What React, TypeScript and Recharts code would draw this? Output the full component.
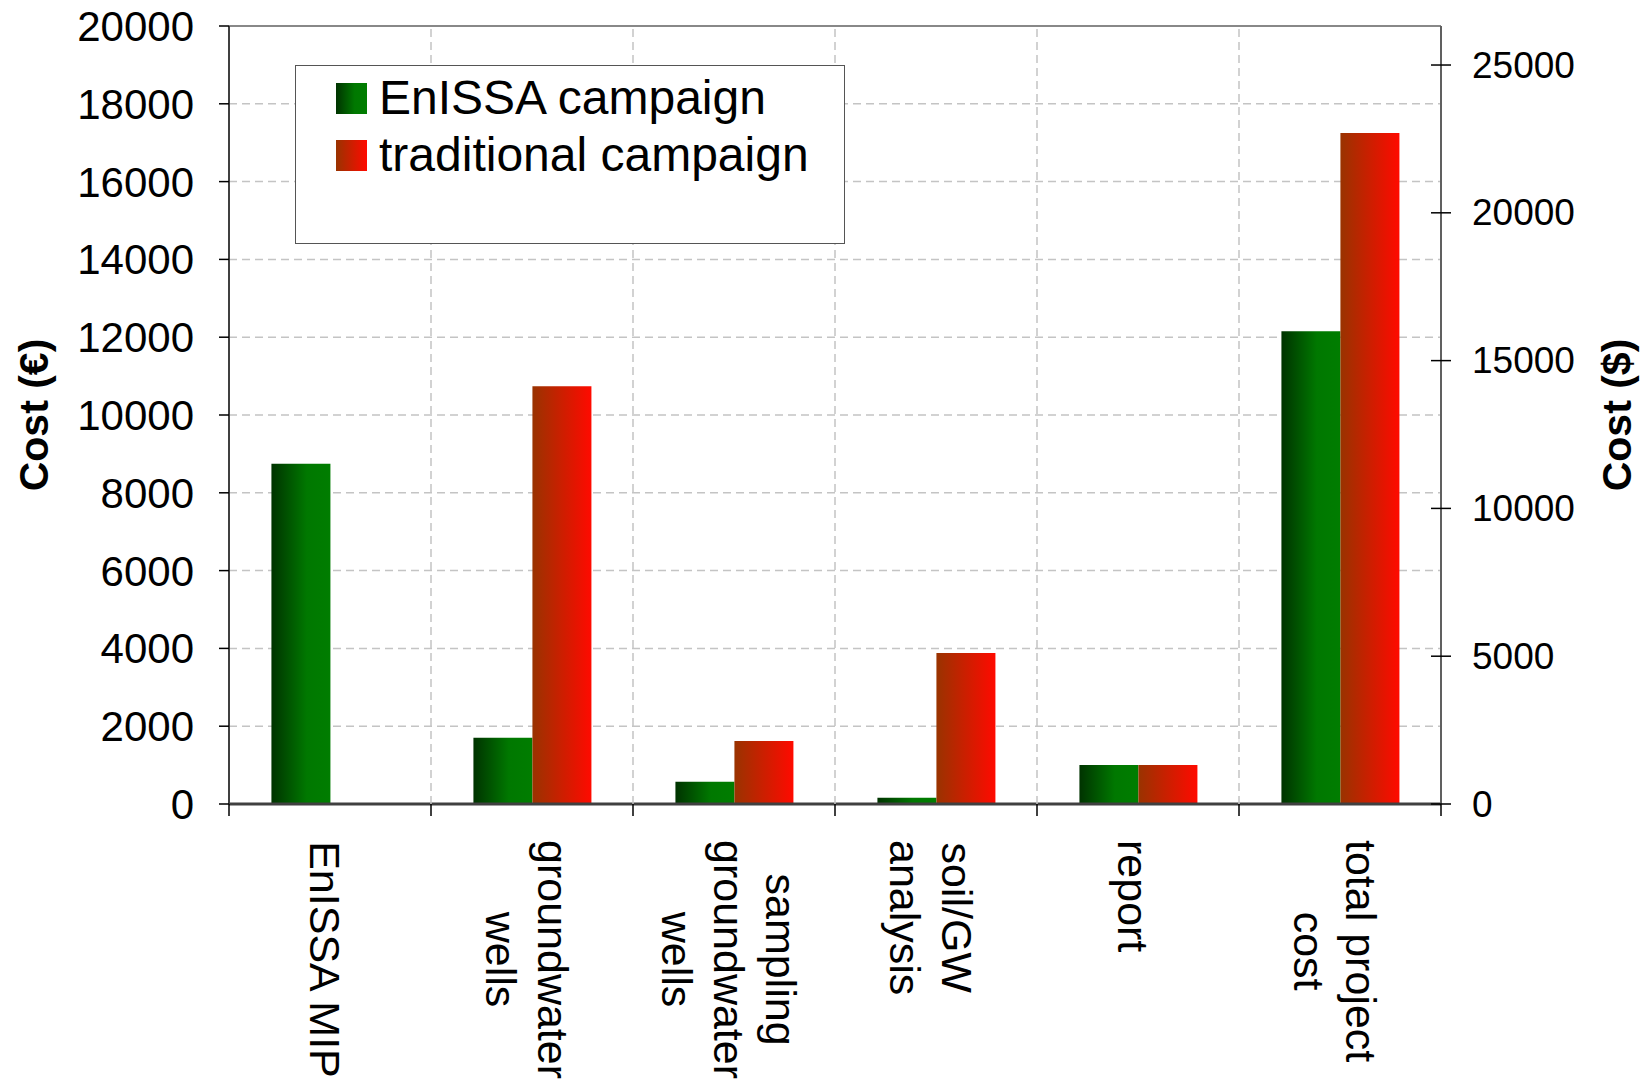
// Cost comparison: EnISSA campaign vs traditional campaign (€ left, $ right)
import React from 'react';
import { BarChart, Bar, XAxis, YAxis, CartesianGrid, ReferenceLine, Legend } from 'recharts';

const CATEGORIES = [
  'EnISSA MIP',
  'groundwater\nwells',
  'sampling\ngroundwater\nwells',
  'soil/GW\nanalysis',
  'report',
  'total project\ncost',
];
const ENISSA_COST = [8750, 1700, 570, 160, 1000, 12150];
const TRADITIONAL_COST = [0, 10740, 1620, 3880, 1000, 17250];

const EUR_TICKS = [0, 2000, 4000, 6000, 8000, 10000, 12000, 14000, 16000, 18000, 20000];
const USD_TICKS = [0, 5000, 10000, 15000, 20000, 25000];
const EUR_MAX = 20000;
const USD_PER_EUR = 1.316;

const SERIES = [
  { key: 'enissa', name: 'EnISSA campaign', grad: 'greenGrad', css: 'linear-gradient(to right, #003300, #007800 60%, #007d00)' },
  { key: 'traditional', name: 'traditional campaign', grad: 'redGrad', css: 'linear-gradient(to right, #993300, #ff0a00)' },
];

const data = CATEGORIES.map((category, i) => ({
  category,
  enissa: ENISSA_COST[i],
  traditional: TRADITIONAL_COST[i],
}));

const W = 1646;
const H = 1082;
const PLOT_TOP = 26;
const LEFT_W = 229;
const RIGHT_W = 205;
const XAXIS_H = 278;
const FONT = "'Liberation Sans', Arial, sans-serif";
const GRID = '#c4c4c4';

let measureCtx: CanvasRenderingContext2D | null = null;
function textWidth(s: string, font: string) {
  if (!measureCtx) measureCtx = document.createElement('canvas').getContext('2d');
  if (!measureCtx) return s.length * 22;
  measureCtx.font = font;
  return measureCtx.measureText(s).width;
}

function CategoryTick(props: any) {
  const { x, y, payload, index } = props;
  const half = payload?.offset || (W - LEFT_W - RIGHT_W) / CATEGORIES.length / 2;
  const lines = String(payload.value).split('\n');
  const fontSize = 43;
  const widths = lines.map((l) => textWidth(l, `${fontSize}px ${FONT}`));
  const maxW = Math.max(...widths);
  const n = lines.length;
  const left = x - half;
  const isLast = index === CATEGORIES.length - 1;
  return (
    <g>
      {index > 0 && (
        <line x1={left} x2={left} y1={y} y2={PLOT_TOP} stroke={GRID} strokeWidth={1.5} strokeDasharray="8 5" />
      )}
      <line x1={left} x2={left} y1={y} y2={y + 12} stroke="#000" strokeWidth={1.5} />
      {isLast && <line x1={x + half} x2={x + half} y1={y} y2={y + 12} stroke="#000" strokeWidth={1.5} />}
      <g transform={`translate(${x - 5},${y}) rotate(90)`}>
        {lines.map((l, i) => (
          <text
            key={i}
            x={36 + maxW / 2}
            y={(i - (n - 1) / 2) * 52}
            textAnchor="middle"
            dominantBaseline="central"
            fontSize={fontSize}
            fontFamily={FONT}
            fill="#000"
          >
            {l}
          </text>
        ))}
      </g>
    </g>
  );
}

function UsdTick(props: any) {
  const { x, y, payload } = props;
  return (
    <g>
      <line x1={x - 10} x2={x + 10} y1={y} y2={y} stroke="#000" strokeWidth={1.5} />
      <text x={x + 31} y={y} dominantBaseline="central" fontSize={37} fontFamily={FONT} fill="#000">
        {payload.value}
      </text>
    </g>
  );
}

function AxisTitle({ viewBox, value, dx }: any) {
  const cx = viewBox.x + dx;
  const cy = viewBox.y + viewBox.height / 2;
  return (
    <text
      x={cx}
      y={cy}
      transform={`rotate(-90, ${cx}, ${cy})`}
      textAnchor="middle"
      dominantBaseline="central"
      fontSize={41}
      fontWeight="bold"
      fontFamily={FONT}
      fill="#000"
    >
      {value}
    </text>
  );
}

function LegendBox() {
  return (
    <div style={{ position: 'relative', width: '100%', height: '100%', fontFamily: FONT }}>
      {SERIES.map((s, i) => (
        <div key={s.key} style={{ position: 'absolute', left: 40, top: 32 + i * 57 - 16, height: 32, display: 'flex', alignItems: 'center' }}>
          <div style={{ width: 31, height: 31, background: s.css }} />
          <span style={{ marginLeft: 12, fontSize: 48, color: '#000', whiteSpace: 'nowrap', lineHeight: '32px' }}>{s.name}</span>
        </div>
      ))}
    </div>
  );
}

export default function App() {
  return (
    <div style={{ position: 'absolute', left: 0, top: 0, width: W, height: H, background: '#fff' }}>
      <BarChart
        width={W}
        height={H}
        data={data}
        margin={{ top: PLOT_TOP, right: 0, bottom: 0, left: 0 }}
        barCategoryGap="21%"
        barGap={0}
      >
        <defs>
          <linearGradient id="greenGrad" x1="0" y1="0" x2="1" y2="0">
            <stop offset="0%" stopColor="#003300" />
            <stop offset="60%" stopColor="#007800" />
            <stop offset="100%" stopColor="#007d00" />
          </linearGradient>
          <linearGradient id="redGrad" x1="0" y1="0" x2="1" y2="0">
            <stop offset="0%" stopColor="#993300" />
            <stop offset="100%" stopColor="#ff0a00" />
          </linearGradient>
        </defs>
        <CartesianGrid yAxisId="left" vertical={false} stroke={GRID} strokeWidth={1.5} strokeDasharray="8 5" />
        <XAxis
          dataKey="category"
          height={XAXIS_H}
          interval={0}
          tickLine={false}
          tickSize={0}
          tickMargin={0}
          axisLine={{ stroke: '#404040', strokeWidth: 3 }}
          tick={<CategoryTick />}
        />
        <YAxis
          yAxisId="left"
          width={LEFT_W}
          domain={[0, EUR_MAX]}
          ticks={EUR_TICKS}
          interval={0}
          tickSize={10}
          tickMargin={25}
          tickLine={{ stroke: '#000', strokeWidth: 1.5 }}
          axisLine={{ stroke: '#404040', strokeWidth: 2 }}
          tick={{ fill: '#000', fontSize: 42, fontFamily: FONT }}
          label={{ content: (p: any) => <AxisTitle {...p} value="Cost (€)" dx={34} /> }}
        />
        <YAxis
          yAxisId="right"
          orientation="right"
          type="number"
          width={RIGHT_W}
          domain={[0, EUR_MAX * USD_PER_EUR]}
          allowDataOverflow
          ticks={USD_TICKS}
          interval={0}
          tickLine={false}
          tickSize={0}
          tickMargin={0}
          axisLine={{ stroke: '#606060', strokeWidth: 2 }}
          tick={<UsdTick />}
          label={{ content: (p: any) => <AxisTitle {...p} value="Cost ($)" dx={176} /> }}
        />
        <ReferenceLine yAxisId="left" y={EUR_MAX} stroke="#888" strokeWidth={2} />
        <Legend
          layout="vertical"
          align="center"
          verticalAlign="middle"
          content={<LegendBox />}
          wrapperStyle={{
            left: 295,
            top: 65,
            width: 550,
            height: 179,
            border: '1.5px solid #555',
            background: '#fff',
            boxSizing: 'border-box',
          }}
        />
        {SERIES.map((s) => (
          <Bar
            key={s.key}
            yAxisId="left"
            dataKey={s.key}
            name={s.name}
            fill={`url(#${s.grad})`}
            isAnimationActive={false}
          />
        ))}
      </BarChart>
    </div>
  );
}
